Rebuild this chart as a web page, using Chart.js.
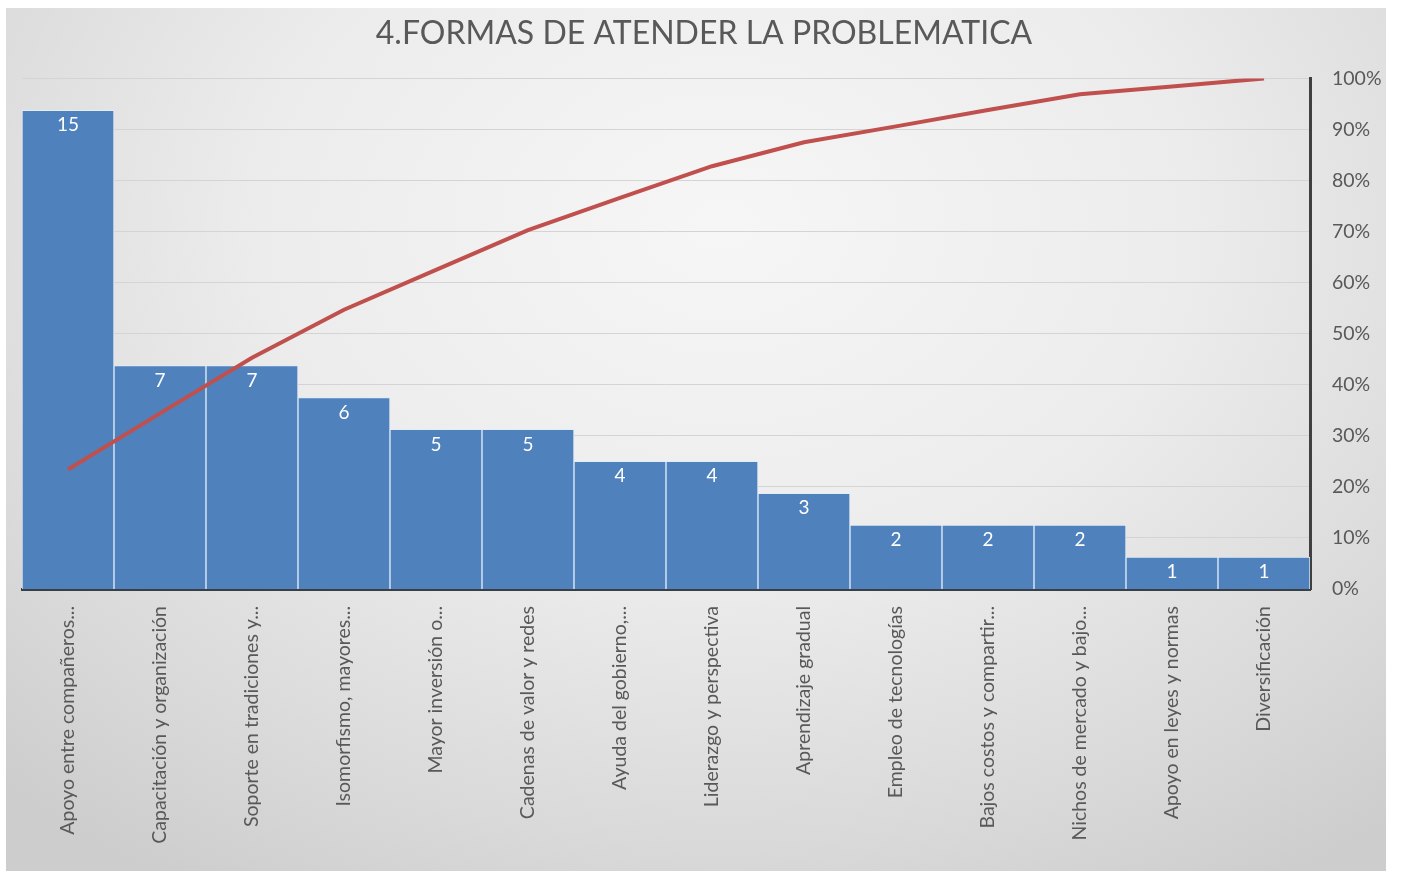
<!DOCTYPE html>
<html>
<head>
<meta charset="utf-8">
<script src="https://cdn.jsdelivr.net/npm/chart.js@4"></script>
<style>
    html, body { margin: 0; padding: 0; background: #ffffff; }
    #panel {
        position: absolute; left: 6px; top: 8px; width: 1380px; height: 863px;
        background: radial-gradient(ellipse 75% 90% at 52% 25%, #f6f6f6 0%, #ececec 45%, #d9d9d9 80%, #cdcdcd 100%);
    }
</style>
</head>
<body>
<div id="panel"><canvas id="myChart"></canvas></div>
<script>
const categorias = [
    "Apoyo entre compañeros...",
    "Capacitación y organización",
    "Soporte en tradiciones y...",
    "Isomorfismo, mayores...",
    "Mayor inversión o...",
    "Cadenas de valor y redes",
    "Ayuda del gobierno,...",
    "Liderazgo y perspectiva",
    "Aprendizaje gradual",
    "Empleo de tecnologías",
    "Bajos costos y compartir...",
    "Nichos de mercado y bajo...",
    "Apoyo en leyes y normas",
    "Diversificación",
];
const frecuencias = [15, 7, 7, 6, 5, 5, 4, 4, 3, 2, 2, 2, 1, 1];
const acumulado = [23.4, 34.4, 45.3, 54.7, 62.5, 70.3, 76.6, 82.8, 87.5, 90.6, 93.8, 96.9, 98.4, 100];
const porcentajeTicks = [0, 10, 20, 30, 40, 50, 60, 70, 80, 90, 100];

const gris = "#595959";
const fuente = "Lato, 'Open Sans', sans-serif";

// white numbers inside the top of each bar
const etiquetasBarras = {
    id: "etiquetasBarras",
    afterDatasetsDraw(chart) {
        const meta = chart.getDatasetMeta(1);
        const ctx = chart.ctx;
        ctx.save();
        ctx.fillStyle = "#ffffff";
        ctx.font = "19px " + fuente;
        ctx.textAlign = "center";
        ctx.textBaseline = "middle";
        meta.data.forEach((bar, i) => {
            ctx.fillText(String(frecuencias[i]), bar.x, bar.y + 15);
        });
        ctx.restore();
    },
};

const config = {
    type: "bar",
    data: {
        labels: categorias,
        datasets: [
            {
                type: "line",
                label: "Acumulado",
                data: acumulado.map((v) => v / 100),
                borderColor: "#c0504d",
                backgroundColor: "#c0504d",
                borderWidth: 4,
                pointRadius: 0,
                tension: 0,
                yAxisID: "y1",
                order: 0,
            },
            {
                label: "Frecuencia",
                data: frecuencias,
                backgroundColor: "#4f81bd",
                borderColor: "#e3ecf7",
                borderWidth: { left: 1, right: 1, top: 1, bottom: 0 },
                borderSkipped: false,
                categoryPercentage: 1,
                barPercentage: 1,
                yAxisID: "y",
                order: 1,
            },
        ],
    },
    options: {
        responsive: true,
        maintainAspectRatio: false,
        animation: false,
        layout: { padding: { left: 16, right: 0, top: 0, bottom: 0 } },
        plugins: {
            legend: { display: false },
            tooltip: { enabled: false },
            title: {
                display: true,
                text: "4.FORMAS DE ATENDER LA PROBLEMATICA",
                color: gris,
                font: { family: fuente, size: 32, weight: "normal" },
                padding: { top: 6, bottom: 26 },
            },
        },
        scales: {
            x: {
                grid: { display: false, drawTicks: false },
                border: { display: true, color: "#3a3f46", width: 3 },
                ticks: {
                    color: gris,
                    font: { family: fuente, size: 19.5 },
                    maxRotation: 90,
                    minRotation: 90,
                    autoSkip: false,
                    padding: 17,
                },
                afterFit: (scale) => {
                    scale.height = 282;
                },
            },
            y: {
                display: false,
                min: 0,
                max: 16,
            },
            y1: {
                position: "right",
                min: 0,
                max: 1,
                afterBuildTicks: (scale) => {
                    scale.ticks = porcentajeTicks.map((p) => ({ value: p / 100 }));
                },
                grid: { color: "#d4d4d4", lineWidth: 1, drawTicks: false },
                border: { display: true, color: "#404040", width: 3 },
                ticks: {
                    color: gris,
                    font: { family: fuente, size: 19.5 },
                    padding: 22,
                    callback: (v) => Math.round(v * 100) + "%",
                },
                afterFit: (scale) => {
                    scale.width = 76;
                },
            },
        },
    },
    plugins: [etiquetasBarras],
};

new Chart(document.getElementById("myChart"), config);
</script>
</body>
</html>
